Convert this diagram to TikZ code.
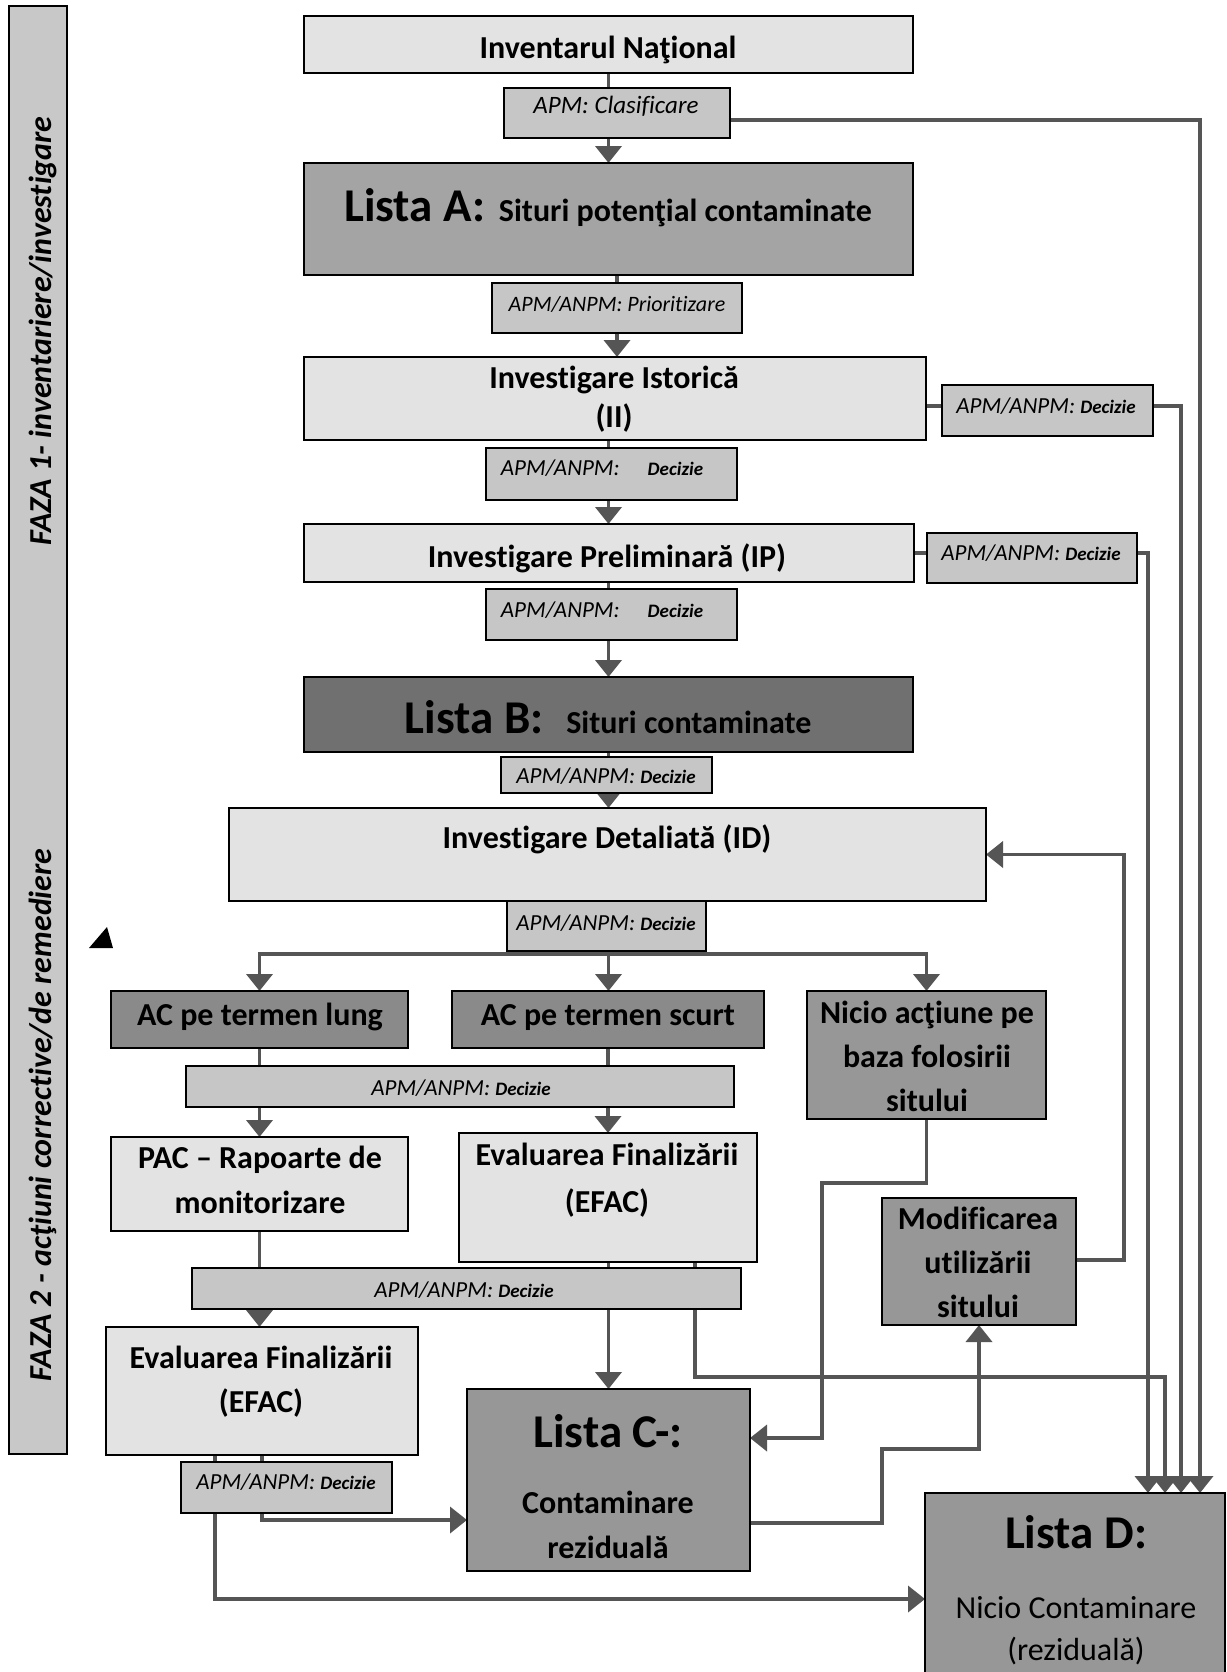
\documentclass[tikz,border=0pt]{standalone}
\usepackage{fontspec}
\setmainfont{Carlito}[Ligatures={NoCommon}]
\usetikzlibrary{arrows.meta,calc}
\pgfdeclarelayer{bg}
\pgfdeclarelayer{lines}
\pgfsetlayers{bg,lines,main}
\definecolor{cLight}{HTML}{E3E3E3}
\definecolor{cApm}{HTML}{C6C6C6}
\definecolor{cA}{HTML}{A4A4A4}
\definecolor{cB}{HTML}{707070}
\definecolor{cAC}{HTML}{8A8A8A}
\definecolor{cMid}{HTML}{979797}
\definecolor{cPhase}{HTML}{C8C8C8}
\definecolor{lineC}{HTML}{555555}
\newcommand\fTitle{\fontsize{16}{22.5}\selectfont\bfseries}
\newcommand\fBig{\fontsize{23.5}{28}\selectfont\bfseries}
\newcommand\decz{{\fontsize{9.5}{11}\selectfont\bfseries\itshape Decizie}}
\newcommand\bbox[6]{\node[box,fill=#6,minimum width={(#4-(#2))*0.5pt},minimum height={(#5-(#3))*0.5pt}] (#1) at ({(#2+#4)/2},{(#3+#5)/2}) {};}
\begin{document}
\begin{tikzpicture}[x=0.5pt,y=-0.5pt,
  box/.style={draw=black,line width=1.4pt,inner sep=0pt,outer sep=0pt,rectangle},
  conn/.style={draw=lineC,line width=1.9pt},
  arr/.style={conn,-{Triangle[width=13pt,length=8.5pt]}},
  ttl/.style={font=\fTitle,align=center,anchor=base,inner sep=0pt},
  big/.style={font=\fBig,anchor=base,inner sep=0pt},
  apmt/.style={font=\fontsize{11.5}{14}\selectfont\itshape,anchor=base,inner sep=0pt},
  phase/.style={font=\fontsize{16}{20}\selectfont\bfseries\itshape,rotate=90,anchor=base,inner sep=0pt}]
\begin{pgfonlayer}{bg}
\fill[white] (0,0) rectangle (1227,1672);
\end{pgfonlayer}
\path[use as bounding box] (0,0) rectangle (1227,1672);

% boxes
\bbox{phase}{9}{6}{67}{1454}{cPhase}
\bbox{Inv}{304}{16}{913}{73}{cLight}
\bbox{Clas}{504}{88}{730}{138}{cApm}
\bbox{ListaA}{304}{163}{913}{275}{cA}
\bbox{Prio}{492}{283}{742}{333}{cApm}
\bbox{II}{304}{357}{926}{440}{cLight}
\bbox{DecIIs}{942}{385}{1153}{436}{cApm}
\bbox{DecII}{486}{448}{737}{500}{cApm}
\bbox{IP}{304}{524}{914}{582}{cLight}
\bbox{DecIPs}{927}{533}{1137}{583}{cApm}
\bbox{DecIP}{486}{589}{737}{640}{cApm}
\bbox{ListaB}{304}{677}{913}{752}{cB}
\bbox{DecB}{501}{757}{712}{793}{cApm}
\bbox{ID}{229}{808}{986}{901}{cLight}
\bbox{DecID}{507}{901}{706}{951}{cApm}
\bbox{ACl}{111}{991}{408}{1048}{cAC}
\bbox{ACs}{452}{991}{764}{1048}{cAC}
\bbox{Nic}{807}{991}{1046}{1119}{cMid}
\bbox{RowA}{186}{1066}{734}{1107}{cApm}
\bbox{PAC}{111}{1137}{408}{1231}{cLight}
\bbox{EFAC}{459}{1133}{757}{1262}{cLight}
\bbox{Modif}{882}{1198}{1076}{1325}{cMid}
\bbox{RowB}{192}{1268}{741}{1309}{cApm}
\bbox{EFACL}{106}{1327}{418}{1455}{cLight}
\bbox{DecL}{181}{1462}{392}{1513}{cApm}
\bbox{ListaC}{467}{1389}{750}{1571}{cMid}
\bbox{ListaD}{925}{1493}{1225}{1700}{cMid}

% texts
\node[phase] (ph1) at (51,331) {FAZA 1- inventariere/investigare};
\node[phase] (ph2) at (51,1115) {FAZA 2 - acţiuni corrective/de remediere};
\node[ttl] (tInv) at (608,58) {Inventarul Naţional};
\node[apmt,font=\fontsize{12.5}{15}\selectfont\itshape] (tClas) at (616,113) {APM: Clasificare};
\node[ttl] (tA) at (608,221) {{\fBig Lista A:}\hspace{7pt}Situri potenţial contaminate};
\node[apmt,font=\fontsize{11}{13}\selectfont\itshape] (tPrio) at (617,311) {APM/ANPM: Prioritizare};
\node[ttl,font=\fontsize{16}{19.5}\selectfont\bfseries] (tII) at (614,427) {Investigare Istorică\\(II)};
\node[apmt] (tDecIIs) at (1046,413) {APM/ANPM: \decz};
\node[apmt] (tDecII) at (602,475) {APM/ANPM:\hspace{14pt}\decz};
\node[ttl] (tIP) at (607,567) {Investigare Preliminară (IP)};
\node[apmt] (tDecIPs) at (1031,560) {APM/ANPM: \decz};
\node[apmt] (tDecIP) at (602,617) {APM/ANPM:\hspace{14pt}\decz};
\node[ttl] (tB) at (608,733) {{\fBig Lista B:}\hspace{11.5pt}Situri contaminate};
\node[apmt] (tDecB) at (606,783) {APM/ANPM: \decz};
\node[ttl] (tID) at (607,848) {Investigare Detaliată (ID)};
\node[apmt] (tDecID) at (606,930) {APM/ANPM: \decz};
\node[ttl] (tACl) at (260,1025) {AC pe termen lung};
\node[ttl] (tACs) at (608,1025) {AC pe termen scurt};
\node[ttl,font=\fontsize{16}{22}\selectfont\bfseries] (tNic) at (927,1111) {Nicio acţiune pe\\baza folosirii\\sitului};
\node[apmt] (tRowA) at (461,1095) {APM/ANPM: \decz};
\node[ttl] (tPAC) at (260,1213) {PAC – Rapoarte de\\monitorizare};
\node[ttl,font=\fontsize{16}{23.5}\selectfont\bfseries] (tEFAC) at (607,1212) {Evaluarea Finalizării\\(EFAC)};
\node[ttl,font=\fontsize{16}{22}\selectfont\bfseries] (tModif) at (978,1317) {Modificarea\\utilizării\\sitului};
\node[apmt] (tRowB) at (464,1297) {APM/ANPM: \decz};
\node[ttl,font=\fontsize{16}{22}\selectfont\bfseries] (tEFACL) at (261,1412) {Evaluarea Finalizării\\(EFAC)};
\node[apmt] (tDecL) at (286,1489) {APM/ANPM: \decz};
\node[big] (tCa) at (608,1447) {Lista C-:};
\node[ttl] (tCb) at (608,1558) {Contaminare\\reziduală};
\node[big] (tDa) at (1076,1548) {Lista D:};
\node[ttl,font=\fontsize{16}{21}\selectfont] (tDb) at (1076,1660) {Nicio Contaminare\\(reziduală)};

% marker
\fill[black] (89,948) -- (113,948) -- (107,927) -- cycle;

% connectors
\coordinate (br) at (608.5,954);
\coordinate (dEF) at (1165,1377);
\coordinate (n1) at (822,1183);
\coordinate (n2) at (822,1438);
\coordinate (m1) at (882,1523);
\coordinate (m2) at (882,1449);
\coordinate (r1) at (1124,1260);
\coordinate (c1) at (1200,120);
\coordinate (h1) at (1181,406);
\coordinate (h2) at (1148,553);
\coordinate (l1) at (262,1520);
\coordinate (l2) at (215,1599);
\begin{pgfonlayer}{lines}
\draw[arr] (Inv.south) -- (ListaA.north);
\draw[conn] (Prio.north |- ListaA.south) -- (Prio.north);
\draw[arr] (Prio.south) -- (Prio.south |- II.north);
\draw[arr] (II.south -| Inv.south) -- (IP.north -| Inv.south);
\draw[arr] (IP.south -| Inv.south) -- (ListaB.north -| Inv.south);
\draw[arr] (ListaB.south) -- (ID.north -| ListaB.south);
\draw[conn] (ID.south -| br) -- (br);
\draw[arr] (br) -- (ACs.north -| br);
\draw[arr] (br) -| (ACl.north);
\draw[arr] (br) -| (Nic.north);
\draw[arr] (ACl.south) -- (PAC.north);
\draw[arr] (ACs.south) -- (EFAC.north -| ACs.south);
\draw[arr] (PAC.south) -- (EFACL.north -| PAC.south);
\draw[arr] (EFAC.south -| br) -- (ListaC.north -| br);
\draw[arr] ($(EFAC.south)+(87,0)$) |- (dEF) -- (dEF |- ListaD.north);
\draw[arr] (Nic.south) |- (n1) -- (n2) -- (n2 -| ListaC.east);
\draw[arr] (ListaC.east |- m1) -- (m1) -- (m2) -| (Modif.south);
\draw[arr] (Modif.east |- r1) -- (r1) |- (ID.east);
\draw[arr] (Clas.east |- c1) -- (c1) -- (c1 |- ListaD.north);
\draw[conn] (II.east |- h1) -- (h1 -| DecIIs.west);
\draw[arr] (h1 -| DecIIs.east) -- (h1) -- (h1 |- ListaD.north);
\draw[conn] (IP.east |- h2) -- (h2 -| DecIPs.west);
\draw[arr] (h2 -| DecIPs.east) -- (h2) -- (h2 |- ListaD.north);
\draw[arr] (EFACL.south -| l1) -- (l1) -- (l1 -| ListaC.west);
\draw[arr] (EFACL.south -| l2) -- (l2) -- (l2 -| ListaD.west);
\end{pgfonlayer}
\end{tikzpicture}
\end{document}
